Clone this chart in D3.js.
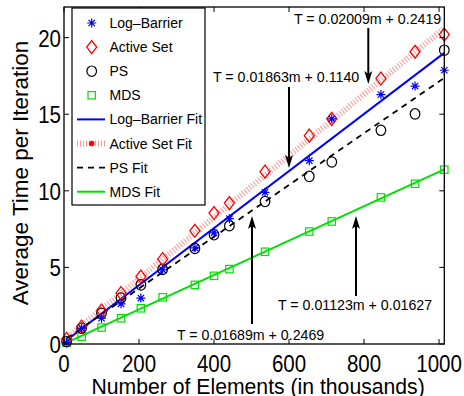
<!DOCTYPE html>
<html>
<head>
<meta charset="utf-8">
<script src="https://cdn.jsdelivr.net/npm/d3@7"></script>
<style>
html,body{margin:0;padding:0;background:#fff;}
svg{display:block;font-family:"Liberation Sans",Arial,Helvetica,sans-serif;}
</style>
</head>
<body>
<svg id="chart" width="464" height="396"></svg>
<script>
// ---- data ----
const elements = [7, 47, 100, 152, 205, 263, 349, 400, 441, 536, 654, 714, 845, 936, 1014];
const logBarrier = [0.09, 1.03, 1.68, 2.62, 3.0, 4.84, 6.28, 7.26, 8.18, 9.9, 11.97, 14.7, 16.28, 16.84, 17.87];
const activeSet = [0.33, 1.13, 2.18, 3.32, 4.4, 5.54, 7.39, 8.55, 9.2, 11.25, 13.6, 14.7, 17.33, 19.08, 20.2];
const psTimes = [0.15, 1.03, 2.0, 3.0, 3.86, 4.87, 6.24, 7.13, 7.72, 9.3, 10.94, 11.88, 13.95, 15.02, 19.18];
const mdsTimes = [0.09, 0.48, 1.07, 1.68, 2.33, 3.05, 3.86, 4.45, 4.89, 6.02, 7.34, 8.0, 9.57, 10.46, 11.38];
const seriesNames = ["Log\u2013Barrier", "Active Set", "PS", "MDS"];
const fitNames = ["Log\u2013Barrier Fit", "Active Set Fit", "PS Fit", "MDS Fit"];
const fitSlopes = [0.01863, 0.02009, 0.01689, 0.01123];
const fitIntercepts = [0.1140, 0.2419, 0.2469, 0.01627];
const fitLabels = ["T = 0.01863m + 0.1140", "T = 0.02009m + 0.2419", "T = 0.01689m + 0.2469", "T = 0.01123m + 0.01627"];
const xTicks = [0, 200, 400, 600, 800, 1000];
const yTicks = [0, 5, 10, 15, 20];
const xLabel = "Number of Elements (in thousands)";
const yLabel = "Average Time per Iteration";

// ---- layout ----
const L = 64, R = 444.3, T = 7, B = 344;
const x = d3.scaleLinear().domain([0, 1014]).range([L, R]);
const y = d3.scaleLinear().domain([0, 22]).range([B, T]);
const svg = d3.select("#chart");

// ---- fit lines ----
const mMin = d3.min(elements), mMax = d3.max(elements);
const line = d3.line().x(d => x(d[0])).y(d => y(d[1]));
const fitPts = i => [mMin, mMax].map(m => [m, fitSlopes[i] * m + fitIntercepts[i]]);

const fitStyles = [
  {stroke: "#0000ff", w: 2, dash: null, op: 1},
  {stroke: "#ff3030", w: 6, dash: "1,2", op: 0.5},
  {stroke: "#000000", w: 1.8, dash: "6,5", op: 1},
  {stroke: "#00e000", w: 2, dash: null, op: 1}
];
const gFits = svg.append("g");
[1, 0, 2, 3].forEach(i => {
  const s = fitStyles[i];
  gFits.append("path").attr("d", line(fitPts(i)))
    .attr("fill", "none").attr("stroke", s.stroke).attr("stroke-width", s.w)
    .attr("stroke-opacity", s.op)
    .attr("stroke-dasharray", s.dash);
});

// ---- markers ----
function drawMarker(g, type, cx, cy) {
  if (type === 0) { // star
    const r = 4.5;
    const p = [];
    for (let k = 0; k < 4; k++) {
      const a = k * Math.PI / 4;
      p.push(`M${cx - r * Math.cos(a)},${cy - r * Math.sin(a)}L${cx + r * Math.cos(a)},${cy + r * Math.sin(a)}`);
    }
    g.append("path").attr("d", p.join("")).attr("stroke", "#0000ff").attr("stroke-width", 1.2).attr("fill", "none");
  } else if (type === 1) { // diamond
    const w = 5, h = 6.5;
    g.append("path").attr("d", `M${cx},${cy - h}L${cx + w},${cy}L${cx},${cy + h}L${cx - w},${cy}Z`)
      .attr("stroke", "#ff0000").attr("stroke-width", 1.3).attr("fill", "none");
  } else if (type === 2) { // circle
    g.append("ellipse").attr("cx", cx).attr("cy", cy).attr("rx", 4.8).attr("ry", 5.2)
      .attr("stroke", "#000").attr("stroke-width", 1.2).attr("fill", "none");
  } else { // square
    g.append("rect").attr("x", cx - 3.7).attr("y", cy - 3.7).attr("width", 7.4).attr("height", 7.4)
      .attr("stroke", "#00e000").attr("stroke-width", 1.2).attr("fill", "none");
  }
}
const allSeries = [logBarrier, activeSet, psTimes, mdsTimes];
const gPts = svg.append("g");
[3, 2, 1, 0].forEach(i => {
  allSeries[i].forEach((v, j) => drawMarker(gPts, i, x(elements[j]), y(v)));
});

// ---- axes box ----
const gAx = svg.append("g");
gAx.append("rect").attr("x", L).attr("y", T).attr("width", R - L).attr("height", B - T)
  .attr("fill", "none").attr("stroke", "#000").attr("stroke-width", 1.3);
const tl = 5;
xTicks.forEach(t => {
  gAx.append("line").attr("x1", x(t)).attr("x2", x(t)).attr("y1", B).attr("y2", B - tl).attr("stroke", "#000").attr("stroke-width", 1);
  gAx.append("line").attr("x1", x(t)).attr("x2", x(t)).attr("y1", T).attr("y2", T + tl).attr("stroke", "#000").attr("stroke-width", 1);
  gAx.append("text").attr("transform", `translate(${x(t)},${371.5}) scale(1,1.15)`)
    .attr("text-anchor", "middle").attr("font-size", 20.5).text(t);
});
yTicks.forEach(t => {
  gAx.append("line").attr("x1", L).attr("x2", L + tl).attr("y1", y(t)).attr("y2", y(t)).attr("stroke", "#000").attr("stroke-width", 1);
  gAx.append("line").attr("x1", R).attr("x2", R - tl).attr("y1", y(t)).attr("y2", y(t)).attr("stroke", "#000").attr("stroke-width", 1);
  gAx.append("text").attr("transform", `translate(${L - 3},${y(t) + 9}) scale(1,1.2)`)
    .attr("text-anchor", "end").attr("font-size", 20.5).text(t);
});
svg.append("text").attr("x", (L + R) / 2 + 4).attr("y", 393.5).attr("text-anchor", "middle")
  .attr("font-size", 21.2).text(xLabel);
svg.append("text").attr("transform", `translate(28,173) rotate(-90)`).attr("text-anchor", "middle")
  .attr("font-size", 22.5).text(yLabel);

// ---- annotations ----
const ann = [
  {tx: 213, ty: 82, ax: 289, y0: 87, y1: 168},
  {tx: 294, ty: 24, ax: 368.3, y0: 28, y1: 84},
  {tx: 177, ty: 340, ax: 252, y0: 324, y1: 216},
  {tx: 278, ty: 310, ax: 356, y0: 296, y1: 216}
];
const gAnn = svg.append("g");
ann.forEach((a, i) => {
  gAnn.append("text").attr("x", a.tx).attr("y", a.ty).attr("font-size", 14.2).text(fitLabels[i]);
  const dir = a.y1 > a.y0 ? 1 : -1;
  gAnn.append("line").attr("x1", a.ax).attr("x2", a.ax).attr("y1", a.y0).attr("y2", a.y1 - dir * 8)
    .attr("stroke", "#000").attr("stroke-width", 2);
  const tip = a.y1;
  gAnn.append("path")
    .attr("d", `M${a.ax},${tip}L${a.ax - 4},${tip - dir * 13}L${a.ax},${tip - dir * 10}L${a.ax + 4},${tip - dir * 13}Z`)
    .attr("fill", "#000");
});

// ---- legend ----
const gLeg = svg.append("g");
gLeg.append("rect").attr("x", 72).attr("y", 8).attr("width", 133).attr("height", 197)
  .attr("fill", "#fff").attr("stroke", "#000").attr("stroke-width", 1.2);
const rowY = k => 23 + k * 24.1;
seriesNames.forEach((n, k) => {
  drawMarker(gLeg, k, 91.7, rowY(k));
  gLeg.append("text").attr("x", 109.5).attr("y", rowY(k) + 5).attr("font-size", 14).text(n);
});
fitNames.forEach((n, i) => {
  const k = i + 4, s = fitStyles[i];
  gLeg.append("line").attr("x1", 77).attr("x2", 105).attr("y1", rowY(k)).attr("y2", rowY(k))
    .attr("stroke", s.stroke).attr("stroke-width", s.w).attr("stroke-opacity", s.op)
    .attr("stroke-dasharray", s.dash);
  if (i === 1) gLeg.append("circle").attr("cx", 91.7).attr("cy", rowY(k)).attr("r", 2.8).attr("fill", "#ff0000");
  gLeg.append("text").attr("x", 109.5).attr("y", rowY(k) + 5).attr("font-size", 14).text(n);
});
</script>
</body>
</html>
